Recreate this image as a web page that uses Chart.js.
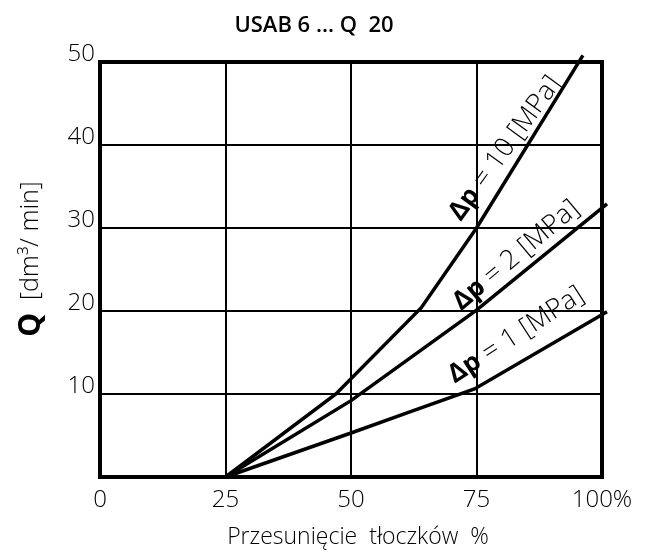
<!DOCTYPE html>
<html>
<head>
<meta charset="utf-8">
<script src="https://cdn.jsdelivr.net/npm/chart.js@4.4.0/dist/chart.umd.min.js"></script>
<style>
  html, body { margin: 0; padding: 0; background: #fff; }
  #wrap { width: 653px; height: 555px; }
</style>
</head>
<body>
<div id="wrap"><canvas id="chart"></canvas></div>
<script>
// osie
const xTicks = [0, 25, 50, 75, 100];
const yTicks = [0, 10, 20, 30, 40, 50];

// krzywe Q = f(przesunięcie) dla różnych Δp
const pct10 = [25, 47, 64, 75, 96.2];
const q10 = [0, 10, 20.4, 30, 50.8];
const pct2 = [25, 50, 75, 101];
const q2 = [0, 9.2, 20.1, 32.9];
const pct1 = [25, 50, 62, 74.6, 101];
const q1 = [0, 5.3, 7.9, 10.6, 19.9];

// opisy krzywych
const lineLabels = ['10', '2', '1'];
const labelPct = [80.7, 82.9, 82.9];
const labelQ = [39.6, 26.7, 17.1];
const labelAngle = [-54, -40, -33];

const FONT = "'Open Sans', 'DejaVu Sans', sans-serif";
const TXT = '#000';

function toPoints(xs, ys) {
    return xs.map((x, i) => ({ x: x, y: ys[i] }));
}

function lineDataset(xs, ys) {
    return {
        data: toPoints(xs, ys),
        showLine: true,
        borderColor: '#000',
        borderWidth: 3.5,
        pointRadius: 0,
        tension: 0,
        clip: false
    };
}

// ramka, tytuły i opisy krzywych
const decorPlugin = {
    id: 'decor',
    afterDatasetsDraw(chart) {
        const ctx = chart.ctx;
        const a = chart.chartArea;
        const xs = chart.scales.x;
        const ys = chart.scales.y;
        ctx.save();

        ctx.strokeStyle = '#000';
        ctx.lineWidth = 4;
        ctx.strokeRect(a.left, a.top, a.right - a.left, a.bottom - a.top);

        ctx.fillStyle = TXT;
        ctx.textBaseline = 'middle';
        ctx.textAlign = 'center';
        ctx.font = '600 22px ' + FONT;
        ctx.fillText('USAB 6 ... Q  20', 314, 26);

        ctx.font = '300 23px ' + FONT;
        ctx.fillText('Przesunięcie  tłoczków  %', 358, 537);

        // tytuł osi Y
        ctx.save();
        ctx.translate(31, 259);
        ctx.rotate(-Math.PI / 2);
        ctx.font = 'bold 30px ' + FONT;
        const qw = ctx.measureText('Q').width;
        ctx.font = '300 25px ' + FONT;
        const rest = '  [dm³/ min]';
        const rw = ctx.measureText(rest).width;
        let sx = -(qw + rw) / 2;
        ctx.textAlign = 'left';
        ctx.font = 'bold 30px ' + FONT;
        ctx.fillText('Q', sx, 0);
        ctx.font = '300 25px ' + FONT;
        ctx.fillText(rest, sx + qw, 0);
        ctx.restore();

        // opisy Δp
        lineLabels.forEach((lab, i) => {
            const px = xs.getPixelForValue(labelPct[i]);
            const py = ys.getPixelForValue(labelQ[i]);
            ctx.save();
            ctx.translate(px, py);
            ctx.rotate(labelAngle[i] * Math.PI / 180);
            ctx.textAlign = 'left';
            ctx.font = 'bold 26px ' + FONT;
            const w1 = ctx.measureText('Δp').width;
            ctx.font = '300 27px ' + FONT;
            const txt = ' = ' + lab + ' [MPa]';
            const w2 = ctx.measureText(txt).width;
            const s = -(w1 + w2) / 2;
            ctx.font = 'bold 26px ' + FONT;
            ctx.fillText('Δp', s, 0);
            ctx.font = '300 27px ' + FONT;
            ctx.fillText(txt, s + w1, 0);
            ctx.restore();
        });

        ctx.restore();
    }
};

function gridColor(c) {
    const v = c.tick.value;
    return (v === c.scale.min || v === c.scale.max) ? 'rgba(0,0,0,0)' : '#000';
}

new Chart(document.getElementById('chart'), {
    type: 'scatter',
    data: {
        datasets: [
            lineDataset(pct10, q10),
            lineDataset(pct2, q2),
            lineDataset(pct1, q1)
        ]
    },
    options: {
        responsive: true,
        maintainAspectRatio: false,
        animation: false,
        layout: { padding: { top: 62, right: 51, left: 0, bottom: 0 } },
        plugins: {
            legend: { display: false },
            tooltip: { enabled: false }
        },
        scales: {
            x: {
                type: 'linear',
                min: 0,
                max: 100,
                afterBuildTicks: s => { s.ticks = xTicks.map(v => ({ value: v })); },
                afterFit: s => { s.height = 78; },
                border: { display: false },
                grid: { color: gridColor, lineWidth: 2, drawTicks: false },
                ticks: {
                    padding: 9,
                    color: TXT,
                    font: { family: FONT, size: 24, weight: 300 },
                    callback: v => v === 100 ? '100%' : String(v)
                }
            },
            y: {
                type: 'linear',
                min: 0,
                max: 50,
                afterBuildTicks: s => { s.ticks = yTicks.map(v => ({ value: v })); },
                afterFit: s => { s.width = 100; },
                border: { display: false },
                grid: { color: gridColor, lineWidth: 2, drawTicks: false },
                ticks: {
                    padding: 5,
                    labelOffset: -8,
                    color: TXT,
                    font: { family: FONT, size: 24, weight: 300 },
                    callback: v => v === 0 ? '' : String(v)
                }
            }
        }
    },
    plugins: [decorPlugin]
});
</script>
</body>
</html>
